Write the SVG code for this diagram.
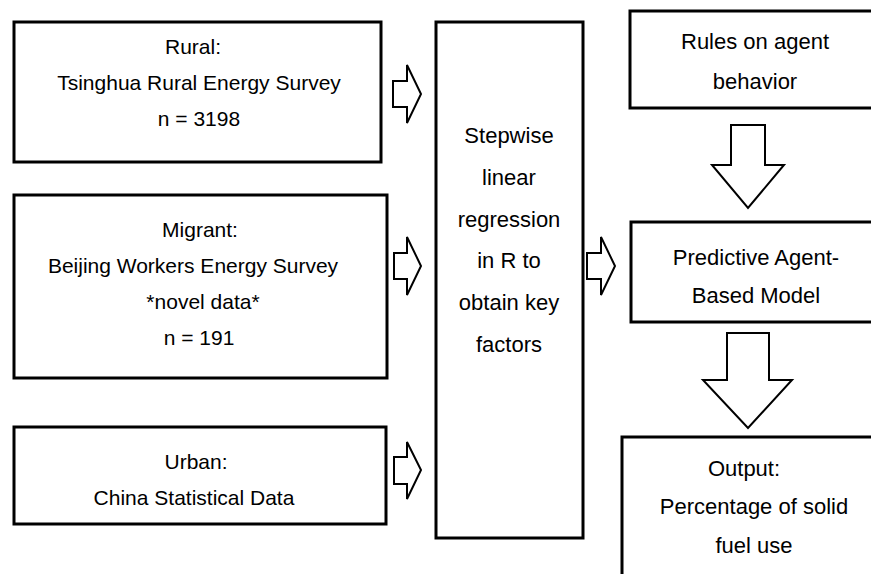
<svg xmlns="http://www.w3.org/2000/svg" width="871" height="574" viewBox="0 0 871 574">
<style>
.box{fill:#fff;stroke:#000;stroke-width:3}
.arr{fill:#fff;stroke:#000;stroke-width:2;stroke-linejoin:miter}
text{font-family:"Liberation Sans",Arial,sans-serif;fill:#000;text-anchor:middle}
.s{font-size:21px}
.l{font-size:22px}
</style>
<rect width="871" height="574" fill="#fff"/>
<g id="rural">
<rect class="box" x="14" y="22" width="367" height="140"/>
<text class="s" x="193" y="54">Rural:</text>
<text class="s" x="199" y="90">Tsinghua Rural Energy Survey</text>
<text class="s" x="199" y="126">n = 3198</text>
</g>
<g id="migrant">
<rect class="box" x="14" y="195" width="373" height="183"/>
<text class="s" x="200" y="237">Migrant:</text>
<text class="s" x="193" y="273">Beijing Workers Energy Survey</text>
<text class="s" x="203" y="309">*novel data*</text>
<text class="s" x="199" y="345">n = 191</text>
</g>
<g id="urban">
<rect class="box" x="14" y="427" width="372" height="97"/>
<text class="s" x="196" y="469">Urban:</text>
<text class="s" x="194" y="505">China Statistical Data</text>
</g>
<g id="regression">
<rect class="box" x="436" y="22" width="147" height="516"/>
<text class="l" x="509" y="143">Stepwise</text>
<text class="l" x="509" y="185">linear</text>
<text class="l" x="509" y="227">regression</text>
<text class="l" x="509" y="268">in R to</text>
<text class="l" x="509" y="310">obtain key</text>
<text class="l" x="509" y="352">factors</text>
</g>
<g id="rules">
<rect class="box" x="630" y="11" width="260" height="97"/>
<text class="l" x="755" y="49">Rules on agent</text>
<text class="l" x="755" y="89">behavior</text>
</g>
<g id="abm">
<rect class="box" x="631" y="222" width="260" height="100"/>
<text class="l" x="756" y="265">Predictive Agent-</text>
<text class="l" x="756" y="303">Based Model</text>
</g>
<g id="output">
<rect class="box" x="622" y="437" width="270" height="160"/>
<text class="l" x="744" y="476">Output:</text>
<text class="l" x="754" y="514">Percentage of solid</text>
<text class="l" x="754" y="553">fuel use</text>
</g>
<g id="connectors">
<polygon class="arr" points="393,81 407,81 407,65 421,94 407,123 407,107 393,107"/>
<polygon class="arr" points="394,253 407,253 407,237 421,266 407,295 407,279 394,279"/>
<polygon class="arr" points="394,457 407,457 407,442 421,470 407,499 407,484 394,484"/>
<polygon class="arr" points="587,253 601,253 601,237 615,266 601,295 601,279 587,279"/>
<polygon class="arr" points="731,125 765,125 765,165 784,165 748,208 712,165 731,165"/>
<polygon class="arr" points="727,333 769,333 769,380 792,380 748,428 703,380 727,380"/>
</g>
</svg>
